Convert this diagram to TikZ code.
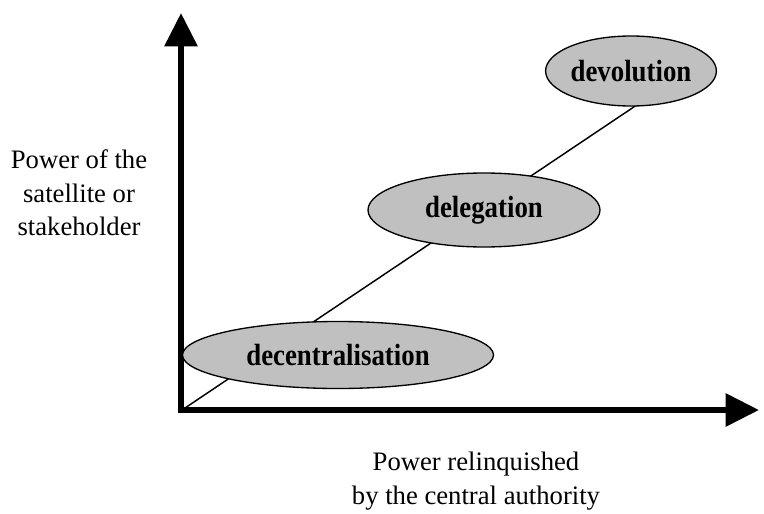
\documentclass[tikz,border=0pt]{standalone}
\usepackage{graphicx}
\usepackage{fontspec}
\setmainfont{Liberation Serif}
\usetikzlibrary{arrows.meta,shapes.geometric}
\definecolor{stagegray}{HTML}{C0C0C0}
\begin{document}
\begin{tikzpicture}[x=0.75pt,y=-0.75pt,
  axis/.style={line width=4.5pt, -{Triangle[length=25pt,width=24pt]}},
  stage/.style={ellipse, draw, line width=1pt, fill=stagegray, inner sep=0pt},
  axislabel/.style={align=center, inner sep=0pt, font=\fontsize{20}{25}\selectfont}]
\useasboundingbox[fill=white] (0,0) rectangle (764,514);

% axes
\coordinate (yfoot) at (181,413);
\coordinate (ytip) at (181,13);
\coordinate (xfoot) at (178,410);
\coordinate (xtip) at (759,410);
\draw[axis] (yfoot) -- (ytip);
\draw[axis] (xfoot) -- (xtip);

% rising line behind the stages
\coordinate (o) at (185,408);
\coordinate (lineend) at (680,76);
\draw[line width=1.1pt] (o) -- (lineend);

% stages
\newcommand{\stagetext}[1]{\scalebox{0.875}[1]{\bfseries\fontsize{23}{28}\selectfont #1}}
\node[stage, minimum width=311*0.75pt, minimum height=67*0.75pt] (decent) at (338,355) {\stagetext{decentralisation}};
\node[stage, minimum width=232*0.75pt, minimum height=74*0.75pt] (deleg) at (484,210) {\stagetext{delegation}};
\node[stage, minimum width=150*0.75pt, minimum height=70*0.75pt] (devol) at (631,71) {\stagetext{devolution}};

% axis labels
\node[axislabel] (ylab) at (79,193) {Power of the\\satellite or\\stakeholder};
\node[axislabel] (xlab) at (476,481) {Power relinquished\\by the central authority};
\end{tikzpicture}
\end{document}
